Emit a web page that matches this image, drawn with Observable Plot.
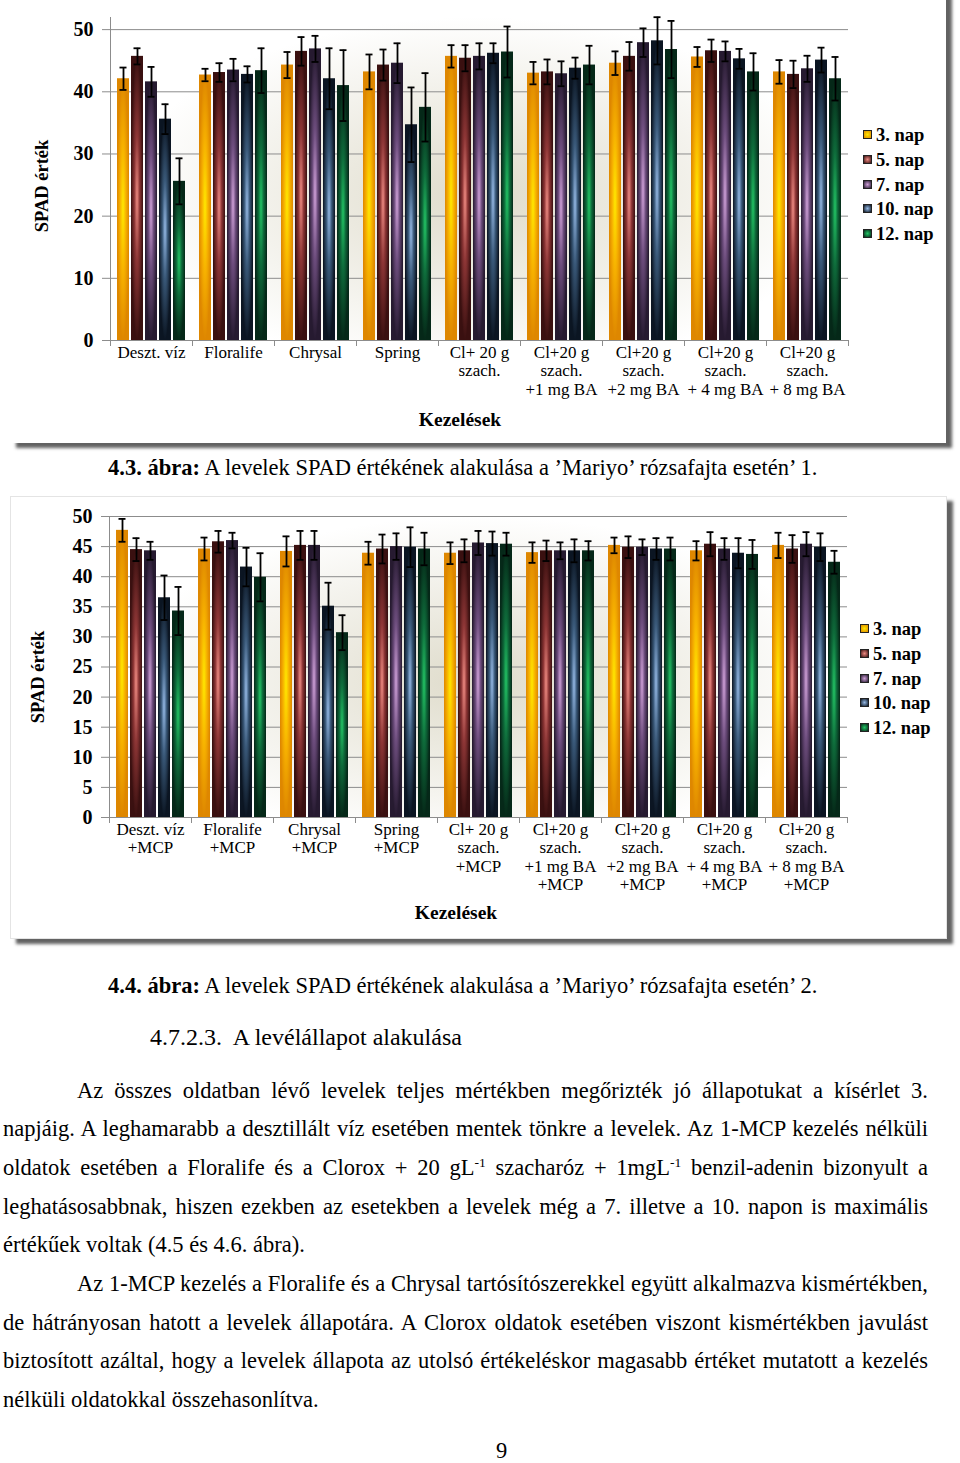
<!DOCTYPE html>
<html><head><meta charset="utf-8">
<script src="https://cdn.jsdelivr.net/npm/d3@7"></script>
<script src="https://cdn.jsdelivr.net/npm/@observablehq/plot@0.6"></script>
<style>
body{margin:0;width:960px;height:1463px;position:relative;background:#fff;font-family:"Liberation Serif","Times New Roman",serif;overflow:hidden;color:#000}
.box{position:absolute;background:#fff;box-shadow:6px 5px 3px rgba(70,70,70,0.85)}
.glow{position:absolute;background:radial-gradient(ellipse 48% 55% at 50% 55%, rgba(196,190,160,0.55), rgba(255,255,255,0) 100%)}
.chart{position:absolute;left:0}
.leg{position:absolute;font-weight:bold;font-size:18.5px;line-height:20px;white-space:nowrap}
.sw{display:inline-block;width:7px;height:7px;margin-right:4px;border:1px solid #222;vertical-align:2px}
.ytitle{position:absolute;font-weight:bold;font-size:18.5px;transform:translate(-50%,-50%) rotate(-90deg);white-space:nowrap}
.xtitle{position:absolute;font-weight:bold;font-size:19.5px;transform:translate(-50%,-50%);white-space:nowrap}
.cap{position:absolute;font-size:22.5px;line-height:26px;white-space:nowrap}
.ln{position:absolute;left:3px;font-size:22.5px;line-height:26px;white-space:nowrap}
sup{font-size:60%;line-height:0;vertical-align:8px}
</style></head>
<body>
<svg width="0" height="0" style="position:absolute">
<defs>
<radialGradient id="g3" cx="0.5" cy="0.5" r="0.5"><stop offset="0" stop-color="#ffe800"/><stop offset="0.5" stop-color="#f6b000"/><stop offset="1" stop-color="#de8700"/></radialGradient>
<radialGradient id="g5" cx="0.5" cy="0.5" r="0.5"><stop offset="0" stop-color="#ee8a82"/><stop offset="0.45" stop-color="#8c3535"/><stop offset="1" stop-color="#3a1010"/></radialGradient>
<radialGradient id="g7" cx="0.5" cy="0.5" r="0.5"><stop offset="0" stop-color="#cfa0d8"/><stop offset="0.45" stop-color="#6c4c7c"/><stop offset="1" stop-color="#261a30"/></radialGradient>
<radialGradient id="g10" cx="0.5" cy="0.5" r="0.5"><stop offset="0" stop-color="#94b8e4"/><stop offset="0.45" stop-color="#395878"/><stop offset="1" stop-color="#0b1522"/></radialGradient>
<radialGradient id="g12" cx="0.5" cy="0.5" r="0.5"><stop offset="0" stop-color="#22c464"/><stop offset="0.45" stop-color="#0e6a3a"/><stop offset="1" stop-color="#052818"/></radialGradient>
</defs></svg>

<div class="box" style="left:10px;top:-10px;width:936px;height:453px"></div>
<div class="box" style="left:10px;top:496px;width:935px;height:441px;border:1px solid #e4e4e4"></div>
<div class="glow" style="left:109px;top:17px;width:740px;height:323px"></div>
<div class="glow" style="left:108px;top:516px;width:739px;height:301px"></div>
<div id="c1" class="chart" style="top:0"></div>
<div id="c2" class="chart" style="top:500px"></div>

<div class="ytitle" style="left:42px;top:186px">SPAD érték</div>
<div class="ytitle" style="left:38px;top:677px">SPAD érték</div>
<div class="xtitle" style="left:460px;top:420px">Kezelések</div>
<div class="xtitle" style="left:456px;top:913px">Kezelések</div>
<div id="leg1"></div>
<div id="leg2"></div>

<div class="cap" style="left:108px;top:455px"><b>4.3. ábra:</b> A levelek SPAD értékének alakulása a ’Mariyo’ rózsafajta esetén’ 1.</div>
<div class="cap" style="left:108px;top:973px"><b>4.4. ábra:</b> A levelek SPAD értékének alakulása a ’Mariyo’ rózsafajta esetén’ 2.</div>
<div class="cap" style="left:150px;top:1024px;font-size:24px">4.7.2.3.&nbsp; A levélállapot alakulása</div>

<div class="ln just" data-w="851" style="top:1078px;left:77px">Az összes oldatban lévő levelek teljes mértékben megőrizték jó állapotukat a kísérlet 3.</div>
<div class="ln just" data-w="925" style="top:1116px">napjáig. A leghamarabb a desztillált víz esetében mentek tönkre a levelek. Az 1-MCP kezelés nélküli</div>
<div class="ln just" data-w="925" style="top:1155px">oldatok esetében a Floralife és a Clorox + 20 gL<sup>-1</sup> szacharóz + 1mgL<sup>-1</sup> benzil-adenin bizonyult a</div>
<div class="ln just" data-w="925" style="top:1194px">leghatásosabbnak, hiszen ezekben az esetekben a levelek még a 7. illetve a 10. napon is maximális</div>
<div class="ln" style="top:1232px">értékűek voltak (4.5 és 4.6. ábra).</div>
<div class="ln just" data-w="851" style="top:1271px;left:77px">Az 1-MCP kezelés a Floralife és a Chrysal tartósítószerekkel együtt alkalmazva kismértékben,</div>
<div class="ln just" data-w="925" style="top:1310px">de hátrányosan hatott a levelek állapotára. A Clorox oldatok esetében viszont kismértékben javulást</div>
<div class="ln just" data-w="925" style="top:1348px">biztosított azáltal, hogy a levelek állapota az utolsó értékeléskor magasabb értéket mutatott a kezelés</div>
<div class="ln" style="top:1387px">nélküli oldatokkal összehasonlítva.</div>
<div class="cap" style="left:496px;top:1438px">9</div>

<script>
const days = ["3. nap", "5. nap", "7. nap", "10. nap", "12. nap"];
const dayFills = ["url(#g3)", "url(#g5)", "url(#g7)", "url(#g10)", "url(#g12)"];
const swatchCss = [
  "radial-gradient(#ffe800,#de8700)", "radial-gradient(#ee8a82,#3a1010)",
  "radial-gradient(#cfa0d8,#261a30)", "radial-gradient(#94b8e4,#0b1522)",
  "radial-gradient(#22c464,#052818)"];

// Chart 1 (4.3. ábra)
const treatments1 = ["Deszt. víz", "Floralife", "Chrysal", "Spring", "Cl+ 20 g\nszach.",
  "Cl+20 g\nszach.\n+1 mg BA", "Cl+20 g\nszach.\n+2 mg BA", "Cl+20 g\nszach.\n+ 4 mg BA", "Cl+20 g\nszach.\n+ 8 mg BA"];
const c1d3  = [42.1, 42.7, 44.3, 43.2, 45.7, 43.0, 44.6, 45.6, 43.2];
const c1d5  = [45.7, 43.1, 46.5, 44.3, 45.4, 43.2, 45.7, 46.6, 42.8];
const c1d7  = [41.6, 43.5, 46.9, 44.6, 45.7, 42.9, 47.9, 46.5, 43.7];
const c1d10 = [35.6, 42.8, 42.1, 34.7, 46.2, 43.8, 48.2, 45.3, 45.1];
const c1d12 = [25.6, 43.4, 41.0, 37.5, 46.4, 44.3, 46.8, 43.2, 42.1];
const c1e3  = [1.8, 1.0, 2.1, 2.8, 1.8, 1.8, 1.9, 1.6, 1.9];
const c1e5  = [1.3, 1.5, 2.3, 2.5, 2.1, 2.0, 2.3, 1.8, 2.2];
const c1e7  = [2.4, 1.8, 2.1, 3.2, 2.1, 2.0, 2.3, 1.6, 2.1];
const c1e10 = [2.4, 1.3, 4.9, 6.0, 1.6, 1.7, 3.8, 1.6, 2.0];
const c1e12 = [3.7, 3.6, 5.7, 5.5, 4.1, 3.1, 4.6, 3.0, 3.5];
const yTicks1 = [0, 10, 20, 30, 40, 50];

// Chart 2 (4.4. ábra)
const treatments2 = ["Deszt. víz\n+MCP", "Floralife\n+MCP", "Chrysal\n+MCP", "Spring\n+MCP", "Cl+ 20 g\nszach.\n+MCP",
  "Cl+20 g\nszach.\n+1 mg BA\n+MCP", "Cl+20 g\nszach.\n+2 mg BA\n+MCP", "Cl+20 g\nszach.\n+ 4 mg BA\n+MCP", "Cl+20 g\nszach.\n+ 8 mg BA\n+MCP"];
const c2d3  = [47.7, 44.6, 44.2, 43.9, 43.9, 44.0, 45.2, 44.3, 45.2];
const c2d5  = [44.5, 45.8, 45.2, 44.6, 44.3, 44.3, 44.9, 45.4, 44.6];
const c2d7  = [44.3, 46.0, 45.2, 45.0, 45.6, 44.3, 44.9, 44.6, 45.4];
const c2d10 = [36.5, 41.6, 35.1, 44.9, 45.5, 44.3, 44.6, 43.9, 44.9];
const c2d12 = [34.3, 39.9, 30.7, 44.6, 45.4, 44.3, 44.6, 43.7, 42.4];
const c2e3  = [1.9, 1.9, 2.5, 1.9, 1.8, 1.7, 1.3, 1.6, 2.1];
const c2e5  = [1.9, 1.8, 2.4, 2.4, 1.9, 1.7, 1.8, 2.0, 2.3];
const c2e7  = [1.5, 1.3, 2.4, 2.2, 2.0, 1.4, 1.3, 1.8, 2.0];
const c2e10 = [3.7, 3.2, 3.9, 3.3, 2.0, 1.9, 1.8, 2.5, 2.3];
const c2e12 = [4.0, 4.0, 2.9, 2.7, 1.9, 1.6, 1.9, 2.4, 1.9];
const yTicks2 = [0, 5, 10, 15, 20, 25, 30, 35, 40, 45, 50];

function makeChart({treatments, vals, errs, height, mt, mb, ml, mr, yTop, yTicks}) {
  const data = [];
  treatments.forEach((t, i) => days.forEach((d, j) => data.push({t, day: d, v: vals[j][i], e: errs[j][i]})));
  const grey = "#8c8c8c";
  const plotH = height - mt - mb;
  return Plot.plot({
    width: 960, height, marginTop: mt, marginBottom: mb, marginLeft: ml, marginRight: mr,
    style: {background: "transparent", fontFamily: "Liberation Serif, Times New Roman, serif", fontSize: "17px", color: "#000"},
    fx: {domain: treatments, padding: 0, label: null},
    x: {domain: days, paddingInner: 0.11, paddingOuter: 0.43, axis: null},
    y: {domain: [0, yTop], label: null},
    color: {domain: days, range: dayFills},
    marks: [
      Plot.gridY(yTicks, {stroke: grey, strokeOpacity: 1, strokeWidth: 1}),
      Plot.frame({anchor: "left", stroke: grey, insetTop: plotH, insetBottom: -5}),
      Plot.frame({anchor: "right", stroke: grey, insetTop: plotH, insetBottom: -5}),
      Plot.frame({anchor: "left", stroke: grey, facet: "super"}),
      Plot.barY(data, {fx: "t", x: "day", y: "v", fill: "day"}),
      Plot.ruleX(data, {fx: "t", x: "day", y1: d => d.v - d.e, y2: d => d.v + d.e, stroke: "#000", strokeWidth: 1.8}),
      Plot.tickY(data, {fx: "t", x: "day", y: d => d.v + d.e, stroke: "#000", strokeWidth: 1.8, insetLeft: 2.5, insetRight: 2.5}),
      Plot.tickY(data, {fx: "t", x: "day", y: d => d.v - d.e, stroke: "#000", strokeWidth: 1.8, insetLeft: 2.5, insetRight: 2.5}),
      Plot.axisY(yTicks, {tickSize: 8, tickPadding: 9, stroke: grey, fontWeight: "bold", fontSize: 20, label: null, tickFormat: d => String(d)}),
      Plot.axisFx({anchor: "bottom", tickSize: 0, tickPadding: 4, label: null, lineHeight: 1.09, fontSize: 17})
    ]
  });
}

document.getElementById("c1").append(makeChart({
  treatments: treatments1, vals: [c1d3, c1d5, c1d7, c1d10, c1d12], errs: [c1e3, c1e5, c1e7, c1e10, c1e12],
  height: 445, mt: 17, mb: 105, ml: 109, mr: 111, yTop: 51.95, yTicks: yTicks1
}));
document.getElementById("c2").append(makeChart({
  treatments: treatments2, vals: [c2d3, c2d5, c2d7, c2d10, c2d12], errs: [c2e3, c2e5, c2e7, c2e10, c2e12],
  height: 440, mt: 16, mb: 123, ml: 108, mr: 113, yTop: 50, yTicks: yTicks2
}));

function legend(id, left, top) {
  const el = document.getElementById(id);
  days.forEach((d, i) => {
    const row = document.createElement("div");
    row.className = "leg";
    row.style.left = left + "px";
    row.style.top = (top + i * 24.8) + "px";
    row.innerHTML = `<span class="sw" style="background:${swatchCss[i]}"></span>${d}`;
    el.append(row);
  });
}
legend("leg1", 863, 125);
legend("leg2", 860, 619);

// justify each full line to its target width by adjusting word spacing
document.querySelectorAll(".ln.just").forEach(el => {
  const target = +el.dataset.w;
  const natural = el.getBoundingClientRect().width;
  const gaps = (el.textContent.match(/ /g) || []).length;
  if (gaps > 0) el.style.wordSpacing = ((target - natural) / gaps) + "px";
});
</script>
</body></html>
